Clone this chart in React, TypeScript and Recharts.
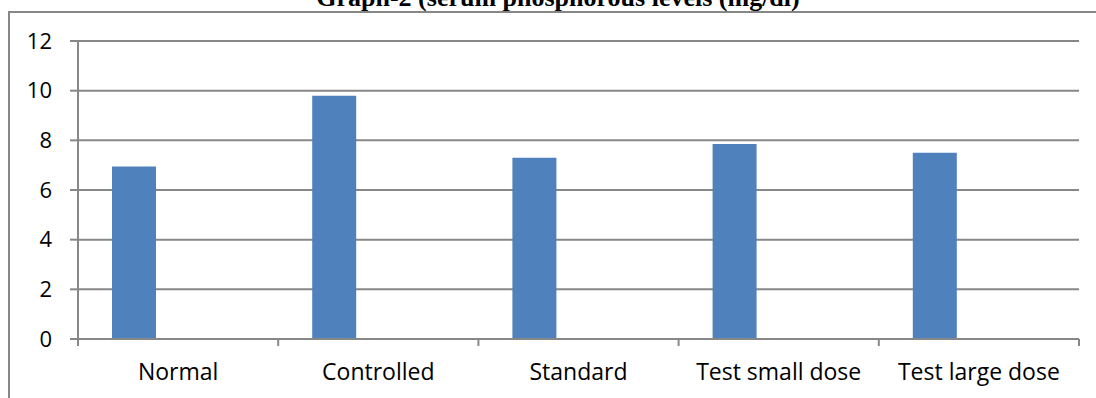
import React from "react";
import { BarChart, Bar, XAxis, YAxis, CartesianGrid } from "recharts";

const categories = ["Normal", "Controlled", "Standard", "Test small dose", "Test large dose"];
const phosphorus = [6.95, 9.8, 7.3, 7.85, 7.5];
// Excel kept two empty series next to the real one, which is why bars sit left in each slot
const series2: (number | null)[] = [null, null, null, null, null];
const series3: (number | null)[] = [null, null, null, null, null];
const yTicks = [0, 2, 4, 6, 8, 10, 12];

const data = categories.map((name, i) => ({
    name,
    s1: phosphorus[i],
    s2: series2[i],
    s3: series3[i],
}));

const GRID = "#878787";
const FONT = "'Open Sans', sans-serif";

const CategoryTick = (props: any) => {
    const { x, y, payload, index } = props;
    const half = payload && payload.offset ? payload.offset : 100;
    const isLast = index === categories.length - 1;
    return (
        <g>
            <line x1={x - half} x2={x - half} y1={y} y2={y + 7} stroke={GRID} strokeWidth={2} />
            {isLast && <line x1={x + half} x2={x + half} y1={y} y2={y + 7} stroke={GRID} strokeWidth={2} />}
            <text x={x} y={y + 41} textAnchor="middle" fill="#000" fontSize={23} fontFamily={FONT}>
                {payload.value}
            </text>
        </g>
    );
};

export default function App() {
    return (
        <div style={{ position: "absolute", left: 0, top: 0, width: 1096, height: 398, overflow: "hidden", background: "#fff" }}>
            {/* outer chart border, only top and left are inside the crop */}
            <div style={{ position: "absolute", left: 8, top: 11, width: 1200, height: 500, borderTop: `2px solid ${GRID}`, borderLeft: `2px solid ${GRID}` }} />
            <div
                style={{
                    position: "absolute",
                    left: 0,
                    width: 1096,
                    top: -17,
                    textAlign: "center",
                    paddingLeft: 20,
                    boxSizing: "border-box",
                    fontFamily: "'Liberation Serif', 'Times New Roman', serif",
                    fontWeight: "bold",
                    fontSize: 26,
                    lineHeight: "30px",
                    whiteSpace: "nowrap",
                }}
            >
                Graph-2 (serum phosphorous levels (mg/dl)
            </div>
            <div style={{ position: "absolute", left: 0, top: 0 }}>
                <BarChart
                    width={1096}
                    height={398}
                    data={data}
                    margin={{ top: 41, right: 17, bottom: 0, left: 0 }}
                    barSize={44}
                    barGap={0}
                >
                    <CartesianGrid vertical={false} stroke={GRID} strokeWidth={2} />
                    <XAxis
                        dataKey="name"
                        height={59}
                        tickSize={0}
                        tickMargin={0}
                        tickLine={false}
                        axisLine={{ stroke: GRID, strokeWidth: 2 }}
                        tick={<CategoryTick />}
                        interval={0}
                    />
                    <YAxis
                        width={78}
                        domain={[0, 12]}
                        ticks={yTicks}
                        tickSize={8}
                        tickMargin={18}
                        axisLine={{ stroke: GRID, strokeWidth: 2 }}
                        tickLine={{ stroke: GRID, strokeWidth: 2 }}
                        tick={{ fill: "#000", fontSize: 22, fontFamily: FONT }}
                    />
                    <Bar dataKey="s1" fill="#4f81bd" isAnimationActive={false} />
                    <Bar dataKey="s2" fill="#c0504d" isAnimationActive={false} />
                    <Bar dataKey="s3" fill="#9bbb59" isAnimationActive={false} />
                </BarChart>
            </div>
        </div>
    );
}
